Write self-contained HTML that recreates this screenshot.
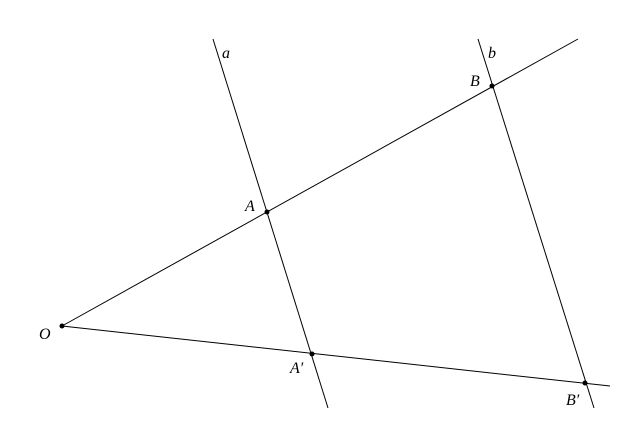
<!DOCTYPE html>
<html><head><style>body{margin:0;background:#fff}svg{display:block}text{font-family:"Liberation Serif",serif;font-style:italic;font-size:16px;fill:#000}</style></head>
<body>
<svg width="634" height="421" viewBox="0 0 634 421">
<g stroke="#000" stroke-width="1" fill="none">
<line x1="62" y1="326" x2="578" y2="39"/>
<line x1="62" y1="326" x2="610" y2="386"/>
<line x1="213" y1="39" x2="328" y2="408"/>
<line x1="478" y1="39" x2="594" y2="408"/>
</g>
<g fill="#000">
<circle cx="62" cy="326" r="2.5"/>
<circle cx="267" cy="212" r="2.5"/>
<circle cx="492" cy="86" r="2.5"/>
<circle cx="312" cy="354" r="2.5"/>
<circle cx="585" cy="383" r="2.5"/>
</g>
<text x="222" y="58">a</text>
<text x="488" y="58">b</text>
<text x="470" y="86">B</text>
<text x="245" y="211">A</text>
<text x="39" y="339">O</text>
<text x="290" y="373">A′</text>
<text x="566" y="405">B′</text>
</svg>
</body></html>
